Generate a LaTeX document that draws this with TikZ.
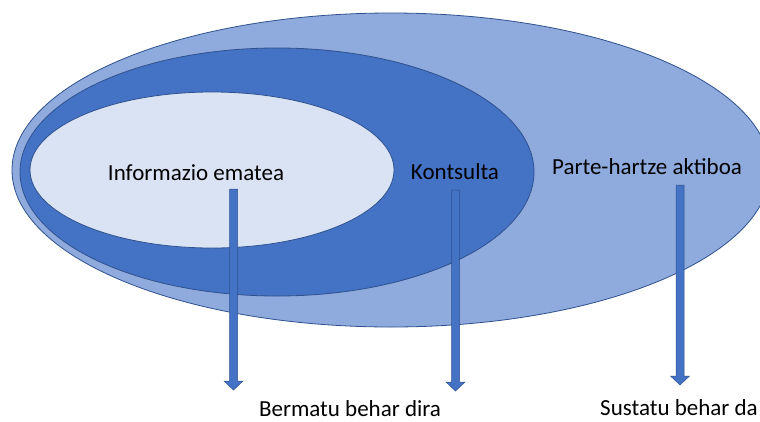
\documentclass[tikz,border=0pt]{standalone}
\usepackage{fontspec}
\setmainfont{Carlito}
\usetikzlibrary{calc,positioning}
\definecolor{outerblue}{HTML}{8FAADC}
\definecolor{midblue}{HTML}{4472C4}
\definecolor{innerblue}{HTML}{DAE3F3}
\definecolor{edgeblue}{HTML}{2F528F}

\begin{document}
\begin{tikzpicture}[x=1pt,y=-1pt,
  ring/.style={draw=edgeblue,line width=0.8pt},
  lbl/.style={font=\fontsize{23}{26}\selectfont,text=black,inner sep=0pt,anchor=base},
  downarrow/.style={fill=midblue,draw=edgeblue,line width=0.5pt}]
\useasboundingbox (0,0) rectangle (760,421);
\fill[white] (0,0) rectangle (760,421);
% the three levels
\draw[ring,fill=outerblue] (391,170) ellipse (379 and 157);
\draw[ring,fill=midblue] (277,172) ellipse (257 and 124);
\draw[ring,fill=innerblue] (212,170) ellipse (182 and 78);
% labels
\node[lbl] (info) at (196,180) {Informazio ematea};
\node[lbl] (kons) at (455,179) {Kontsulta};
\node[lbl] (parte) at (647,174) {Parte-hartze aktiboa};
\node[lbl] (berm) at (350,416) {Bermatu behar dira};
\node[lbl] (sust) at (679,415) {Sustatu behar da};
% arrows
\coordinate (infotop) at (233.5,189);
\coordinate (infoend) at (233.5,390);
\coordinate (konstop) at (455.5,190);
\coordinate (konsend) at (455.5,391);
\coordinate (partetop) at (680,185);
\coordinate (parteend) at (680,385);
\foreach \a in {info,kons,parte}
  \draw[downarrow] ($(\a top)+(-4,0)$) -- ($(\a end)+(-4,-9)$) -- ($(\a end)+(-9.5,-9)$)
    -- (\a end) -- ($(\a end)+(9.5,-9)$) -- ($(\a end)+(4,-9)$) -- ($(\a top)+(4,0)$) -- cycle;
\end{tikzpicture}
\end{document}
